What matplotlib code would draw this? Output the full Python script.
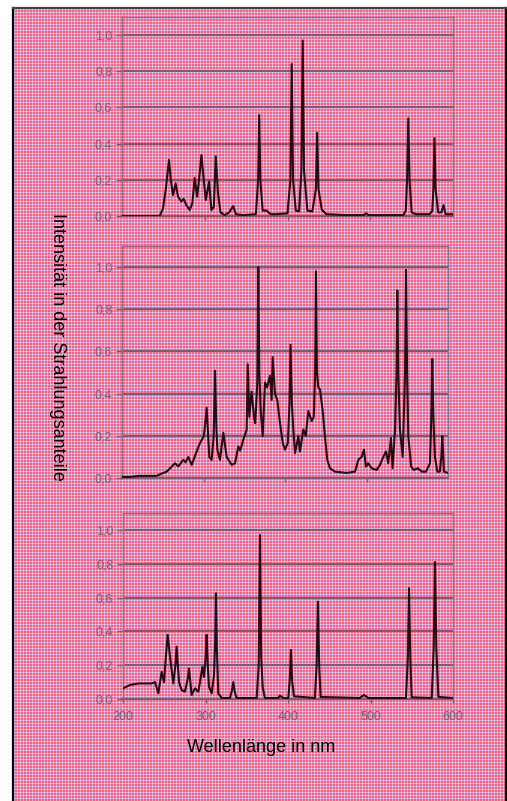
import numpy as np
import matplotlib
matplotlib.use('Agg')
import matplotlib.pyplot as plt
from matplotlib.lines import Line2D

plt.rcParams['font.family'] = ['Liberation Sans', 'DejaVu Sans']

# ── Spektren (Wellenlänge in nm, relative Intensität) ──
wl_top = [200, 240, 245.5, 249.5, 253, 256.8, 259, 261.6, 264.8, 267.7, 271.7, 274.5,
          277.8, 281.8, 285, 287.9, 290.7, 293.1, 296, 298.8, 301.2, 305.2, 308, 311,
          313.3, 316, 319, 324, 329.5, 334.3, 337.6, 346.4, 361.8, 364.5, 365.8, 367.2,
          370, 374.8, 379.6, 387, 400, 403.5, 405.1, 406.7, 410, 414, 416.8, 418.4,
          420, 424, 430, 434.3, 435.8, 437.4, 441.4, 447, 470, 492, 495, 498,
          540, 543, 544.5, 546, 547.5, 550, 555, 572, 575, 576.3, 577.6, 579,
          582, 586, 588.6, 591, 600]
int_top = [0.0, 0.0, 0.0, 0.04, 0.15, 0.31, 0.2, 0.115, 0.18, 0.107, 0.08, 0.095,
           0.06, 0.033, 0.07, 0.21, 0.107, 0.2, 0.337, 0.2, 0.088, 0.19, 0.033, 0.05,
           0.33, 0.127, 0.02, 0.005, 0.02, 0.055, 0.01, 0.005, 0.01, 0.2, 0.558, 0.2,
           0.03, 0.03, 0.01, 0.01, 0.015, 0.2, 0.84, 0.2, 0.03, 0.025, 0.25, 0.97,
           0.25, 0.03, 0.025, 0.15, 0.46, 0.15, 0.035, 0.01, 0.005, 0.005, 0.015, 0.005,
           0.005, 0.03, 0.2, 0.54, 0.2, 0.02, 0.01, 0.01, 0.03, 0.15, 0.43, 0.15,
           0.02, 0.02, 0.06, 0.01, 0.01]

wl_mid = [200, 210, 220, 228, 242.5, 248, 254.8, 260, 265, 269, 275.2, 278,
          281.4, 285.5, 291.6, 295.7, 297.8, 300.5, 303.9, 307.1, 310, 312.5, 314.1, 315.7,
          317, 320.2, 324.3, 328.4, 334.6, 338.7, 342.7, 345, 348.8, 353, 354.2, 356.2,
          359, 362, 363.5, 366, 367.2, 368.5, 370.1, 372.6, 375.5, 378, 381.6, 383.6,
          384.9, 387.7, 390.5, 393.9, 397.2, 400, 403.5, 405.5, 406.8, 408.5, 410.2, 412.3,
          416.4, 418.4, 422.5, 425.5, 428.6, 432.8, 435.3, 437, 438, 439.2, 440.9, 442.9,
          446.2, 449, 451.9, 455.2, 461.3, 475.7, 485.9, 490, 494, 496.9, 499.3, 502,
          506.3, 512.4, 516.5, 520.6, 523.9, 526.7, 530, 532, 535, 536.8, 537.8, 539,
          541, 544.4, 547.3, 548.5, 549.8, 551.3, 554.8, 558, 563, 568, 573, 577.9,
          579.6, 580.7, 582, 584, 586.9, 590, 591.8, 593, 594.2, 595, 600]
int_mid = [0.005, 0.005, 0.01, 0.01, 0.01, 0.02, 0.03, 0.05, 0.07, 0.055, 0.086, 0.075,
           0.10, 0.062, 0.126, 0.166, 0.18, 0.2, 0.333, 0.10, 0.086, 0.2, 0.509, 0.25,
           0.134, 0.086, 0.214, 0.10, 0.062, 0.07, 0.15, 0.13, 0.18, 0.23, 0.54, 0.29,
           0.41, 0.29, 0.26, 0.45, 1.0, 0.5, 0.325, 0.198, 0.453, 0.43, 0.485, 0.37,
           0.573, 0.40, 0.37, 0.26, 0.166, 0.134, 0.166, 0.35, 0.632, 0.35, 0.23, 0.118,
           0.198, 0.126, 0.23, 0.2, 0.317, 0.27, 0.29, 0.5, 0.98, 0.5, 0.43, 0.42,
           0.32, 0.198, 0.086, 0.046, 0.03, 0.024, 0.03, 0.086, 0.10, 0.134, 0.054, 0.07,
           0.046, 0.038, 0.062, 0.10, 0.126, 0.07, 0.19, 0.046, 0.23, 0.5, 0.89, 0.5,
           0.23, 0.10, 0.5, 0.987, 0.5, 0.198, 0.054, 0.038, 0.046, 0.03, 0.03, 0.07,
           0.3, 0.565, 0.3, 0.10, 0.03, 0.03, 0.1, 0.198, 0.1, 0.03, 0.024]

wl_bot = [200, 208.5, 218.6, 234.8, 238.8, 242.8, 246.9, 249.7, 252, 254.1, 257, 261,
          263.5, 265, 267.9, 271.1, 275, 278.5, 280, 283.2, 287.3, 291.3, 293.3, 296.2,
          298.2, 300.2, 301.4, 302.8, 304.2, 307.5, 310.3, 311.8, 312.7, 313.8, 315.5, 319.6,
          329.7, 332, 333.7, 335.5, 337.7, 362, 364.5, 366, 367.5, 369.3, 372, 388.2,
          390.3, 394.3, 400.4, 402.2, 403.6, 405.1, 407.3, 432.6, 434.7, 436.3, 437.8, 439.6,
          487, 492.1, 497.4, 543, 545.3, 546.7, 548.2, 549.9, 574.2, 576.6, 578.2, 579.8,
          582.3, 600]
int_bot = [0.063, 0.083, 0.092, 0.092, 0.10, 0.034, 0.16, 0.10, 0.25, 0.38, 0.25, 0.092,
           0.2, 0.31, 0.10, 0.053, 0.043, 0.12, 0.18, 0.024, 0.063, 0.043, 0.10, 0.19,
           0.13, 0.25, 0.38, 0.2, 0.073, 0.034, 0.14, 0.35, 0.625, 0.3, 0.034, 0.006,
           0.006, 0.05, 0.10, 0.04, 0.006, 0.006, 0.2, 0.97, 0.25, 0.07, 0.006, 0.006,
           0.02, 0.006, 0.006, 0.12, 0.29, 0.1, 0.016, 0.006, 0.2, 0.576, 0.2, 0.012,
           0.006, 0.024, 0.006, 0.006, 0.25, 0.655, 0.25, 0.01, 0.006, 0.3, 0.81, 0.3,
           0.012, 0.006]

y_ticks = [0.0, 0.2, 0.4, 0.6, 0.8, 1.0]
y_tick_labels = ['0,0', '0,2', '0,4', '0,6', '0,8', '1,0']
x_ticks = [200, 300, 400, 500, 600]

W, H = 507, 801
GRID = '#84586e'
FRAME = '#906e84'
TICK_TXT = '#7e5e74'
LINE = '#2a0a12'


def _plaid(h, w):
    # kariertes Hintergrundmuster
    r = (np.arange(h)[:, None] % 3) == 0
    c = (np.arange(w)[None, :] % 3) == 0
    img = np.empty((h, w, 3))
    img[:] = (243, 100, 128)
    img[r ^ c] = (224, 165, 208)
    img[r & c] = (222, 215, 252)
    return img / 255.0


def _panel(fig, rect, wl, inten, labels_x):
    ax = fig.add_axes(rect)
    ax.patch.set_alpha(0)
    ax.plot(wl, inten, color=LINE, lw=1.5, zorder=3)
    ax.set_xlim(200, 600)
    ax.set_ylim(0, 1.1)
    ax.set_yticks(y_ticks)
    ax.set_yticklabels(y_tick_labels)
    ax.yaxis.grid(True, color=GRID, lw=1.5, zorder=1)
    ax.set_axisbelow(True)
    if labels_x:
        ax.set_xticks(x_ticks)
        ax.set_xticklabels([str(v) for v in x_ticks])
    else:
        ax.set_xticks(x_ticks[1:-1])
        ax.set_xticklabels([])
    ax.tick_params(direction='out', length=4, width=1, color=GRID,
                   labelcolor=TICK_TXT, labelsize=9)
    ax.tick_params(axis='y', pad=3)
    ax.tick_params(axis='x', length=3, pad=6)
    for s in ax.spines.values():
        s.set_color(FRAME)
        s.set_linewidth(1.0)
    ax.spines['bottom'].set_color(GRID)
    ax.spines['bottom'].set_linewidth(1.5)
    return ax


fig = plt.figure(figsize=(W / 100, H / 100), dpi=100, facecolor='white')

bg = fig.add_axes([14 / W, 0, 491 / W, 792 / H])
bg.imshow(_plaid(792, 491), aspect='auto', interpolation='nearest')
bg.set_axis_off()

# Rahmen
fig.add_artist(Line2D([13 / W, 13 / W], [0, 793 / H], color='black', lw=1.6))
fig.add_artist(Line2D([505.5 / W, 505.5 / W], [0, 793 / H], color='black', lw=1.6))
fig.add_artist(Line2D([13 / W, 505.5 / W], [793 / H, 793 / H], color='#444444', lw=1.6))

_panel(fig, [122 / W, (H - 216) / H, 331 / W, 199 / H], wl_top, int_top, False)
_panel(fig, [122 / W, (H - 478) / H, 326 / W, 232 / H], wl_mid, int_mid, False)
_panel(fig, [123 / W, (H - 699) / H, 330 / W, 186 / H], wl_bot, int_bot, True)

fig.text(57 / W, (H - 347) / H, 'Intensität in der Strahlungsanteile',
         rotation=270, ha='center', va='center', fontsize=13, color='black')
fig.text(261 / W, (H - 748) / H, 'Wellenlänge in nm',
         ha='center', va='center', fontsize=13, color='black')

fig.savefig('out.png', dpi=100, facecolor='white')
